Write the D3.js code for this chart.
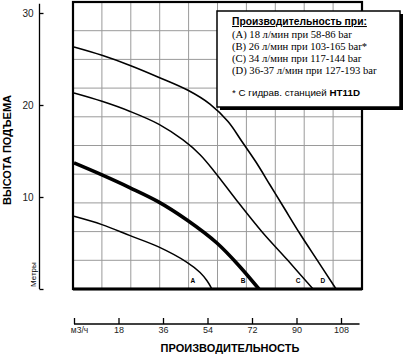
<!DOCTYPE html>
<html>
<head>
<meta charset="utf-8">
<script src="https://cdn.jsdelivr.net/npm/d3@7"></script>
<style>
  html, body { margin: 0; padding: 0; background: #fff; }
  svg { display: block; }
  text { font-family: "Liberation Sans", Arial, sans-serif; fill: #000; }
  text.serif { font-family: "Liberation Serif", "Times New Roman", serif; }
</style>
</head>
<body>
<div id="chart"></div>
<script>
// ---------- data (flow m3/h, head m) ----------
const curveNames = ["A", "B", "C", "D"];
const flowA = [0, 11.3, 22.7, 34.0, 45.7, 51.0, 53.8, 55.8];
const headA = [7.9, 7.0, 5.8, 4.6, 2.9, 1.8, 0.9, 0];
const flowB = [0, 11.3, 22.7, 34.0, 45.7, 57.8, 67.2, 74.8];
const headB = [13.7, 12.4, 11.0, 9.5, 7.5, 5.0, 2.4, 0];
const flowC = [0, 11.3, 22.7, 34.4, 44.1, 51.0, 57.0, 65.9, 76.1, 86.2, 96.7];
const headC = [21.3, 20.4, 19.3, 17.9, 16.2, 14.6, 12.7, 9.6, 6.2, 3.2, 0];
const flowD = [0, 11.3, 22.7, 34.4, 46.1, 55.0, 62.3, 68.0, 73.6, 79.3, 85.0, 91.4, 98.7, 106.0];
const headD = [26.3, 25.4, 24.3, 23.0, 21.6, 20.1, 18.2, 16.0, 13.8, 11.3, 8.8, 6.0, 3.0, 0];
const labelFlow = [48.1, 68.4, 90.6, 100.7];
const labelHead = [0.7, 0.7, 0.7, 0.7];

const xTicks = [0, 18, 36, 54, 72, 90, 108];
const xTickLabels = ["м3/ч", "18", "36", "54", "72", "90", "108"];
const yTicks = [0, 10, 20, 30];
const yTickLabels = ["", "10", "20", "30"];

const yTitle = "ВЫСОТА ПОДЪЕМА";
const xTitle = "ПРОИЗВОДИТЕЛЬНОСТЬ";
const unitLabel = "Метры";
const legendTitle = "Производительность при:";
const legendLines = [
  "(A) 18 л/мин при 58-86 bar",
  "(B) 26 л/мин при 103-165 bar*",
  "(C) 34 л/мин при 117-144 bar",
  "(D) 36-37 л/мин при 127-193 bar"
];
const footPlain = "* С гидрав. станцией ";
const footBold = "HT11D";

// ---------- layout ----------
const W = 405, H = 355;
const svg = d3.select("#chart").append("svg").attr("width", W).attr("height", H);

const x = d3.scaleLinear().domain([0, 108]).range([74, 341]);
const y = d3.scaleLinear().domain([0, 30]).range([289, 13]);

// plot box (grid) geometry
const box = { left: 73, top: 2, right: 362, bottom: 289 };
const gx = d3.scaleLinear().domain([0, 10]).range([box.left, box.right]);
const gy = d3.scaleLinear().domain([0, 10]).range([box.bottom, box.top]);

const grid = svg.append("g");
d3.range(1, 10).forEach(i => {
  grid.append("line").attr("x1", gx(i)).attr("x2", gx(i)).attr("y1", box.top).attr("y2", box.bottom)
    .attr("stroke", "#9a9a9a").attr("stroke-width", 1);
  grid.append("line").attr("x1", box.left).attr("x2", box.right).attr("y1", gy(i)).attr("y2", gy(i))
    .attr("stroke", "#9a9a9a").attr("stroke-width", 1);
});

// curves
const line = d3.line().x(d => x(d[0])).y(d => y(d[1])).curve(d3.curveCatmullRom.alpha(0.5));
const series = [
  { f: flowA, h: headA, w: 1.5 },
  { f: flowB, h: headB, w: 3.6 },
  { f: flowC, h: headC, w: 1.5 },
  { f: flowD, h: headD, w: 1.6 }
];
svg.append("clipPath").attr("id", "plotclip").append("rect")
  .attr("x", box.left).attr("y", box.top).attr("width", box.right - box.left).attr("height", box.bottom - box.top);
const curves = svg.append("g").attr("clip-path", "url(#plotclip)");
series.forEach(s => {
  curves.append("path").datum(s.f.map((v, i) => [v, s.h[i]]))
    .attr("d", line).attr("fill", "none").attr("stroke", "#000").attr("stroke-width", s.w)
    .attr("stroke-linecap", "butt");
});
curveNames.forEach((n, i) => {
  svg.append("text").attr("x", x(labelFlow[i])).attr("y", y(labelHead[i]))
    .attr("text-anchor", "middle").attr("font-size", 6.5).attr("font-weight", "bold").text(n);
});

// box border
svg.append("rect").attr("x", box.left).attr("y", box.top)
  .attr("width", box.right - box.left).attr("height", box.bottom - box.top)
  .attr("fill", "none").attr("stroke", "#000").attr("stroke-width", 2.2);
svg.append("line").attr("x1", box.left).attr("x2", box.right).attr("y1", box.bottom).attr("y2", box.bottom)
  .attr("stroke", "#000").attr("stroke-width", 3);

// y axis
svg.append("line").attr("x1", 39.5).attr("x2", 39.5).attr("y1", y(0)).attr("y2", y(31))
  .attr("stroke", "#000").attr("stroke-width", 1.3);
const yAxis = d3.axisLeft(y).tickValues(yTicks).tickFormat((d, i) => yTickLabels[i])
  .tickSizeInner(-4).tickSizeOuter(0).tickPadding(6);
const yg = svg.append("g").attr("transform", "translate(39.5,0)").call(yAxis);
yg.select(".domain").remove();
yg.selectAll("line").attr("stroke", "#000").attr("stroke-width", 1.3);
yg.selectAll("text").attr("font-size", 10).style("font-family", "Liberation Sans, Arial, sans-serif").style("fill", "#222");

// x axis
const axisY = 324;
svg.append("line").attr("x1", x(0)).attr("x2", x(115.5)).attr("y1", axisY).attr("y2", axisY)
  .attr("stroke", "#000").attr("stroke-width", 1.3);
const xAxis = d3.axisBottom(x).tickValues(xTicks).tickFormat((d, i) => xTickLabels[i])
  .tickSizeInner(-6).tickSizeOuter(0).tickPadding(3);
const xg = svg.append("g").attr("transform", `translate(0,${axisY})`).call(xAxis);
xg.select(".domain").remove();
xg.selectAll("line").attr("stroke", "#000").attr("stroke-width", 1.3);
xg.selectAll("text").attr("font-size", 9).style("font-family", "Liberation Sans, Arial, sans-serif").style("fill", "#222");
xg.selectAll(".tick").filter((d, i) => i === 0).select("text").attr("dx", 5).attr("font-size", 8.5);

// titles
svg.append("text").attr("transform", "translate(11,150) rotate(-90)").attr("text-anchor", "middle")
  .attr("font-size", 11).attr("font-weight", "bold").text(yTitle);
svg.append("text").attr("x", 230).attr("y", 352).attr("text-anchor", "middle")
  .attr("font-size", 11).attr("font-weight", "bold").text(xTitle);
svg.append("text").attr("transform", "translate(36,287) rotate(-90)").attr("text-anchor", "start")
  .attr("font-size", 8).text(unitLabel);

// legend box
const lg = { x: 217, y: 11, w: 183, h: 96 };
svg.append("rect").attr("x", lg.x + 3).attr("y", lg.y + 3).attr("width", lg.w).attr("height", lg.h).attr("fill", "#000");
svg.append("rect").attr("x", lg.x).attr("y", lg.y).attr("width", lg.w).attr("height", lg.h)
  .attr("fill", "#fff").attr("stroke", "#000").attr("stroke-width", 1.5);
const tx = 232;
svg.append("text").attr("x", tx).attr("y", 25).attr("font-size", 10.3).attr("font-weight", "bold")
  .attr("text-decoration", "underline").text(legendTitle);
legendLines.forEach((t, i) => {
  svg.append("text").attr("class", "serif").attr("x", tx).attr("y", 38 + i * 12)
    .attr("font-size", 10.6).text(t);
});
const ft = svg.append("text").attr("x", tx).attr("y", 96).attr("font-size", 9.8);
ft.append("tspan").text(footPlain);
ft.append("tspan").attr("font-weight", "bold").text(footBold);
</script>
</body>
</html>
